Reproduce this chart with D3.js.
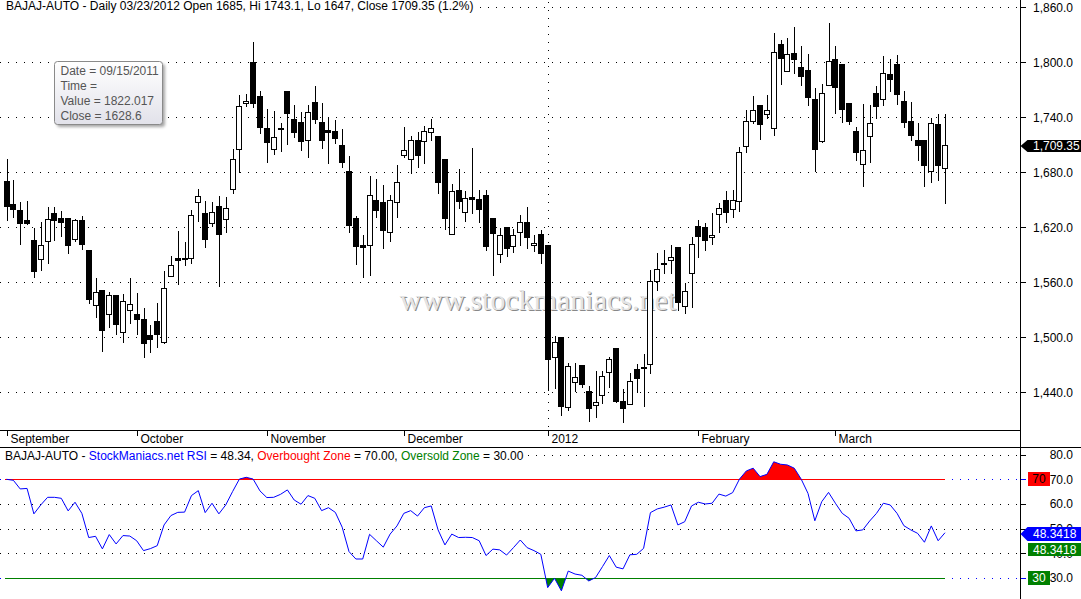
<!DOCTYPE html>
<html><head><meta charset="utf-8">
<script src="https://cdn.jsdelivr.net/npm/d3@7/dist/d3.min.js"></script>
<style>
html,body{margin:0;padding:0;background:#fff;overflow:hidden;}
svg{display:block;font-family:"Liberation Sans",Arial,sans-serif;}
</style></head><body>
<svg id="c" width="1081" height="599"></svg>
<script>
// ---------------- DATA ----------------
const months   = ["September","October","November","December","2012","February","March"];
const monthIdx = [0,19,38,58,79,101,121];
const priceTicks = [1440,1500,1560,1620,1680,1740,1800,1860];
const rsiTicks   = [30,40,50,60,70,80];

const open = [1670.5,1645.5,1638.9,1628,1606.2,1585.1,1604.8,1635.6,1629.9,1630.2,1607,1628,1595.3,1534.9,1551.3,1525.1,1545.9,1505.5,1529.5,1525.5,
1519.7,1502.2,1517.5,1495.2,1567.2,1586.5,1585.8,1586.2,1648,1635.6,1624.4,1643.3,1628.8,1661.5,1705.1,1755.3,1800.4,1763.3,1728.4,1705.1,
1728,1768.7,1737.9,1734.6,1714.9,1756.4,1734.6,1726.2,1725.1,1709.8,1681.8,1630.2,1600.7,1601.1,1649.8,1647.3,1615.2,1648,1699.2,1694.9,
1715.3,1714.5,1723.7,1719.6,1694.5,1612.4,1660.7,1637.1,1652.8,1650.9,1655.3,1630.5,1590.6,1620.4,1599.6,1614.6,1625.5,1600.4,1612.4,1600.7,
1478.2,1500,1424.3,1451.6,1469.8,1441.5,1426.2,1436.8,1462.5,1488,1430.6,1427,1465.1,1468,1470.6,1561.5,1581.1,1584.7,1598.2,1534.5,
1569.9,1621.5,1620.4,1609.1,1634.2,1649.5,1639.7,1649.1,1708.4,1735.7,1753.5,1744,1728,1820,1790.2,1810.2,1794.9,1791.3,1760,1714.5,
1774.9,1803.6,1798.2,1755.3,1725.1,1689.4,1719.3,1766.2,1759.7,1786.9,1797.9,1757.5,1735.7,1714.9,1715.3,1681.1,1732.7,1685];
const high = [1694.5,1671.6,1648,1648.7,1619.3,1626.1,1642.5,1641.9,1637.8,1630.2,1628.8,1632.7,1595.3,1564.7,1551.6,1549.1,1546.2,1547.3,1564.7,1548,
1531.7,1513.5,1537.1,1572.4,1588.7,1616,1604,1638.6,1661.8,1648.7,1647.6,1654.2,1653.4,1705.5,1764.4,1765.5,1822.0,1768.7,1748.8,1746.9,
1734.1,1768.7,1753.5,1745.5,1753.5,1774.2,1755.3,1739.3,1737.1,1727,1697.8,1632.4,1611.6,1676,1672.7,1666.2,1655.3,1688,1729.8,1719.6,
1724.3,1730.5,1738.2,1719.6,1694.5,1667.3,1683.6,1659.6,1706.2,1660.7,1660.7,1630.5,1618.9,1620.4,1618.2,1633.5,1642.5,1611.6,1617.1,1600.7,
1501.8,1500,1472.3,1471.7,1469.8,1446.9,1463.3,1463.6,1478,1488,1443.3,1460.8,1470.9,1481.8,1573.5,1591.7,1595.3,1600.7,1598.9,1559,
1609.8,1628,1624.4,1635.3,1646.2,1659.6,1660.7,1707.3,1748,1763.3,1753.5,1764.4,1831.7,1824.4,1826.2,1838.2,1817.5,1809.1,1771.7,1776.4,
1842.6,1817.5,1798.2,1755.3,1729.1,1754.5,1753.5,1774.2,1806.9,1803.6,1808,1768.7,1756.4,1733.8,1715.3,1738.9,1743.6,1743.1];
const low = [1628,1631.6,1601.8,1623.6,1566.2,1573.5,1581.4,1606.2,1610.5,1592.3,1605.4,1596,1537.8,1521.9,1485.4,1510.9,1503.3,1495.2,1515.3,1503.3,
1478.2,1483.7,1489.8,1494.1,1567.2,1557.9,1578.6,1580.8,1627.2,1598.9,1621.5,1556.3,1615.2,1657.1,1680,1752.7,1751.6,1722.6,1691.6,1700,
1703.6,1710.6,1718.2,1704.4,1697.1,1733.5,1706.9,1690.5,1712.3,1686.1,1615.2,1580,1566.2,1568,1631.6,1597.8,1605.1,1631.6,1697.1,1679.6,
1686.1,1689.9,1715.3,1657.1,1618.2,1612.4,1640.8,1627.2,1636,1626.1,1595.3,1568,1582.5,1588.7,1593.1,1600.7,1597.1,1594.2,1581.4,1442.5,
1444.4,1415.3,1420.7,1441.8,1446.1,1408.7,1413.4,1428.7,1446.1,1429.8,1408,1427,1440.7,1425.1,1461.4,1551.6,1569.9,1569.9,1529.8,1526.2,
1533.4,1588,1595,1602.1,1615.2,1625.5,1631.6,1638.1,1702.5,1734.1,1716.4,1739.6,1720.7,1776.4,1790.2,1788,1775.3,1753.5,1681.5,1712.8,
1774.9,1745.1,1735.2,1733.1,1693.5,1665.1,1691.6,1739.6,1753.5,1768.7,1754.5,1729.8,1715.3,1693.5,1665.4,1669.8,1671.6,1647];
const close = [1643.6,1640.3,1625.1,1625.1,1572.7,1600.4,1628.8,1628.3,1626.1,1601.1,1627.7,1602.1,1542.1,1549.1,1508.3,1545.9,1514.9,1539.3,1536,1519.7,
1493.5,1497.9,1503.3,1553.5,1578.6,1584.7,1586.5,1633.1,1653.9,1607.6,1636.4,1613.1,1640.8,1694.2,1752,1757.8,1756,1729.8,1713.4,1718.5,
1728.4,1744.4,1723.7,1714.5,1745.5,1737.9,1715.3,1724.3,1717.8,1691.6,1622.5,1600,1598.9,1655,1639.2,1617.1,1649.8,1669.1,1704,1715.3,
1699.2,1724.8,1728,1669.8,1630.5,1659.3,1649.1,1651.7,1650.6,1640.3,1600,1614.1,1611.6,1597.8,1611.6,1625.5,1609.8,1603.2,1591.7,1476,
1494.6,1425.4,1468.7,1456.4,1448.8,1422.6,1429.1,1457.8,1476,1430.6,1423.2,1452,1455.3,1466.2,1561.5,1574.2,1579.7,1587.3,1538.9,1550.5,
1601.8,1610.9,1606.5,1611.3,1640.8,1636.4,1649.5,1701.9,1735.7,1747.7,1732.4,1747.7,1810.9,1804.4,1808.8,1803.3,1785.4,1762.5,1705.8,1766.2,
1801.1,1773.4,1749.1,1736.3,1701.9,1704,1733.5,1752.7,1788,1782.1,1765.1,1735.2,1721.1,1710.1,1688.3,1733.5,1688.3,1709.35];
const rsi = [70,69.6,66.1,66.3,56,59.6,62.7,62.7,62.3,57.2,60.7,56.2,46.4,46.9,41.8,47.6,43.8,47.2,47,45.1,
41.1,41.9,43.1,51.5,55.3,56.6,56.7,63.4,65.4,56.5,60.3,56,59.6,65,70.1,70.8,70.1,65.3,62.6,62.7,
63.9,65.7,61.6,59.9,63.4,62.3,57.3,58.5,56.6,50.6,40.7,37.7,37.7,47.7,45.1,42.5,47.8,51.1,56.2,57.3,
55.1,58.5,59.2,49.5,43.4,47.8,46.4,46.5,46.4,45.1,39.1,41.7,41.4,39.3,42.3,45.4,42.3,41.1,39.6,26.1,
29.9,24.8,32.8,31.6,31.1,28.8,30.2,34.6,39.1,34.4,33.7,39.4,39.6,42.0,56.5,58.0,58.7,59.6,51.5,52.8,
59.2,60.7,60.0,60.3,64.0,63.2,64.6,70.1,73.4,74.5,71.1,72.0,77.1,76.1,75.8,74.5,70.1,64.3,53.2,60.9,
64.7,60.3,56.2,54.2,49.1,49.5,53.1,56.2,60.3,59.6,56.2,51.2,49.5,48.1,44.5,51.1,45.1,48.34];
const overbought = 70, oversold = 30;

// ---------------- CHART ----------------
const svg = d3.select("#c");
const AX = 1020.5;
const n = close.length;
const x  = d3.scaleLinear().domain([0, n-1]).range([6.5, 945]);
const y  = d3.scaleLinear().domain([1440, 1860]).range([392.3, 7.3]);
const yr = d3.scaleLinear().domain([30, 70]).range([578, 479.3]);
const px = v => Math.round(v) + 0.5;
const fmtP = d3.format(",.1f");

const defs = svg.append("defs");
const g1 = defs.append("linearGradient").attr("id","tipg").attr("x1",0).attr("y1",0).attr("x2",0).attr("y2",1);
g1.append("stop").attr("offset","0%").attr("stop-color","#ffffff");
g1.append("stop").attr("offset","100%").attr("stop-color","#e2e2ea");
const f = defs.append("filter").attr("id","blur").attr("x","-20%").attr("y","-20%").attr("width","140%").attr("height","140%");
f.append("feGaussianBlur").attr("stdDeviation",1.5);

// main gridlines
const grid = svg.append("g").attr("shape-rendering","crispEdges");
priceTicks.forEach(t => {
  grid.append("line").attr("x1",0).attr("x2",AX-1).attr("y1",px(y(t))).attr("y2",px(y(t)))
    .attr("stroke","#000").attr("stroke-dasharray","1,7");
});
grid.append("line").attr("x1",px(x(monthIdx[4]))).attr("x2",px(x(monthIdx[4])))
  .attr("y1",2).attr("y2",430).attr("stroke","#000").attr("stroke-dasharray","1,7");

// watermark
const wm = svg.append("g").attr("font-family","'Liberation Serif','Times New Roman',serif").attr("font-size",30).attr("text-anchor","middle");
wm.append("text").attr("x",539).attr("y",311).attr("fill","#888").text("www.stockmaniacs.net");
wm.append("text").attr("x",538).attr("y",310).attr("fill","#e4e4e4").text("www.stockmaniacs.net");

// candles
const cg = svg.append("g").attr("shape-rendering","crispEdges");
d3.range(n).forEach(i => {
  const cx = px(x(i));
  cg.append("line").attr("x1",cx).attr("x2",cx).attr("y1",Math.round(y(high[i]))).attr("y2",Math.round(y(low[i]))+1)
    .attr("stroke","#000");
  const top = Math.round(y(Math.max(open[i],close[i])));
  const bot = Math.round(y(Math.min(open[i],close[i])));
  cg.append("rect").attr("x",cx-3).attr("width",5).attr("y",top+0.5).attr("height",Math.max(1,bot-top))
    .attr("fill", close[i] >= open[i] ? "#fff" : "#000").attr("stroke","#000");
});

// title
const title = svg.append("text").attr("x",6).attr("y",9.5).attr("font-size",12).attr("fill","#000")
  .text("BAJAJ-AUTO - Daily 03/23/2012 Open 1685, Hi 1743.1, Lo 1647, Close 1709.35 (1.2%)");
const tw = title.node().getComputedTextLength();
svg.insert("rect", () => title.node()).attr("x",0).attr("y",0).attr("width",tw+9).attr("height",13).attr("fill","#fff");

// frame lines
const fr = svg.append("g").attr("shape-rendering","crispEdges").attr("stroke","#000");
fr.append("line").attr("x1",0).attr("x2",AX).attr("y1",430.5).attr("y2",430.5);
fr.append("line").attr("x1",0).attr("x2",1081).attr("y1",447.5).attr("y2",447.5);
fr.append("line").attr("x1",AX).attr("x2",AX).attr("y1",0).attr("y2",599);

// month axis
monthIdx.forEach((mi,k) => {
  const mx = px(x(mi));
  fr.append("line").attr("x1",mx).attr("x2",mx).attr("y1",431).attr("y2",436);
  svg.append("text").attr("x",mx+3).attr("y",443).attr("font-size",12).attr("fill","#000").text(months[k]);
});

// price axis
priceTicks.forEach(t => {
  fr.append("line").attr("x1",AX).attr("x2",AX+5).attr("y1",px(y(t))).attr("y2",px(y(t)));
  svg.append("text").attr("x",1073).attr("y",y(t)).attr("dy","0.36em").attr("text-anchor","end")
    .attr("font-size",12).attr("fill","#000").text(fmtP(t));
});
// last price marker
{
  const last = close[n-1];
  const cy = Math.round(y(last)) + 1;
  svg.append("path").attr("d",`M${AX},${cy} L${AX+7},${cy-6} L1081,${cy-6} L1081,${cy+6} L${AX+7},${cy+6} Z`).attr("fill","#000");
  svg.append("text").attr("x",1033).attr("y",cy).attr("dy","0.36em").attr("font-size",12).attr("fill","#fff")
    .text(d3.format(",.2f")(last));
}

// ---------------- RSI PANEL ----------------
const rg = svg.append("g").attr("shape-rendering","crispEdges");
rsiTicks.forEach(t => {
  const blue = (t === overbought || t === oversold);
  rg.append("line").attr("x1",0).attr("x2",AX-1).attr("y1",px(yr(t))).attr("y2",px(yr(t)))
    .attr("stroke", blue ? "#0000ff" : "#000").attr("stroke-dasharray","1,7");
});
// zone fills
function zones(level, above) {
  const polys = []; let cur = null;
  const inZ = v => above ? v > level : v < level;
  for (let i = 0; i < n; i++) {
    const v = rsi[i];
    if (i > 0 && inZ(v) !== inZ(rsi[i-1])) {
      const p = rsi[i-1], t = (level - p) / (v - p);
      const xc = x(i-1) + t * (x(i) - x(i-1));
      if (inZ(v)) cur = [[xc, level]];
      else { cur.push([xc, level]); polys.push(cur); cur = null; }
    }
    if (inZ(v)) { if (!cur) cur = [[x(i), level]]; cur.push([x(i), v]); }
  }
  if (cur) { cur.push([x(n-1), level]); polys.push(cur); }
  return polys;
}
const poly = d3.line().x(d => d[0]).y(d => yr(d[1]));
zones(overbought, true).forEach(p => svg.append("path").attr("d", poly(p) + "Z").attr("fill","#ff0000"));
zones(oversold, false).forEach(p => svg.append("path").attr("d", poly(p) + "Z").attr("fill","#008000"));
// zone lines
rg.append("line").attr("x1",x(0)-1.5).attr("x2",x(n-1)).attr("y1",px(yr(overbought))).attr("y2",px(yr(overbought))).attr("stroke","#ff0000");
rg.append("line").attr("x1",x(0)-1.5).attr("x2",x(n-1)).attr("y1",px(yr(oversold))).attr("y2",px(yr(oversold))).attr("stroke","#008000");
// RSI line
svg.append("path").attr("d", d3.line().x((d,i) => x(i)).y(d => yr(d))(rsi))
  .attr("fill","none").attr("stroke","#0000ff").attr("stroke-width",1);

// RSI title
const rt = svg.append("text").attr("x",5).attr("y",460).attr("font-size",12).attr("fill","#000");
rt.append("tspan").text("BAJAJ-AUTO - ");
rt.append("tspan").attr("fill","#0000ff").text("StockManiacs.net RSI");
rt.append("tspan").text(" = " + d3.format(".2f")(rsi[n-1]) + ", ");
rt.append("tspan").attr("fill","#ff0000").text("Overbought Zone");
rt.append("tspan").text(" = " + d3.format(".2f")(overbought) + ", ");
rt.append("tspan").attr("fill","#008000").text("Oversold Zone");
rt.append("tspan").text(" = " + d3.format(".2f")(oversold));
const rtw = rt.node().getComputedTextLength();
svg.insert("rect", () => rt.node()).attr("x",0).attr("y",449).attr("width",rtw+8).attr("height",13).attr("fill","#fff");

// RSI axis
rsiTicks.forEach(t => {
  const blue = (t === overbought || t === oversold);
  rg.append("line").attr("x1",AX).attr("x2",AX+5).attr("y1",px(yr(t))).attr("y2",px(yr(t))).attr("stroke", blue ? "#0000ff" : "#000");
  svg.append("text").attr("x",1073).attr("y",yr(t)).attr("dy","0.36em").attr("text-anchor","end")
    .attr("font-size",12).attr("fill","#000").text(d3.format(".1f")(t));
});
// zone boxes
[[overbought,"#ff0000","#000"],[oversold,"#008000","#fff"]].forEach(([lv,bg,fg]) => {
  const cy = Math.round(yr(lv));
  svg.append("rect").attr("x",1028).attr("y",cy-7).attr("width",22).attr("height",14).attr("fill",bg);
  svg.append("text").attr("x",1039).attr("y",cy).attr("dy","0.36em").attr("text-anchor","middle")
    .attr("font-size",12).attr("fill",fg).text(lv);
});
// last RSI markers
{
  const lastR = rsi[n-1];
  const cy = Math.round(yr(lastR)) + 1;
  svg.append("path").attr("d",`M${AX},${cy} L${AX+7},${cy-7} L1081,${cy-7} L1081,${cy+7} L${AX+7},${cy+7} Z`).attr("fill","#0000ff");
  svg.append("text").attr("x",1033).attr("y",cy).attr("dy","0.36em").attr("font-size",12).attr("fill","#fff").text("48.3418");
  svg.append("rect").attr("x",1028).attr("y",cy+9).attr("width",53).attr("height",13).attr("fill","#008000");
  svg.append("text").attr("x",1033).attr("y",cy+15.5).attr("dy","0.36em").attr("font-size",12).attr("fill","#fff").text("48.3418");
}

// tooltip
const tip = svg.append("g");
tip.append("rect").attr("x",57).attr("y",64).attr("width",108).attr("height",63).attr("rx",3)
  .attr("fill","rgba(0,0,0,0.35)").attr("filter","url(#blur)");
tip.append("rect").attr("x",54.5).attr("y",61.5).attr("width",108).attr("height",63).attr("rx",3)
  .attr("fill","url(#tipg)").attr("stroke","#8a8a8a");
["Date = 09/15/2011","Time =","Value = 1822.017","Close = 1628.6"].forEach((s,k) => {
  tip.append("text").attr("x",60.5).attr("y",74.5 + k*15).attr("font-size",12).attr("fill","#555").text(s);
});
</script>
</body></html>
